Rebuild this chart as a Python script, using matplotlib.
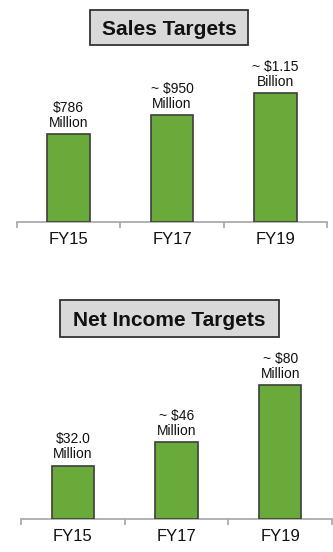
import matplotlib
matplotlib.use("Agg")
import matplotlib.pyplot as plt
from matplotlib.patches import Rectangle

plt.rcParams['font.family'] = ['Liberation Sans', 'DejaVu Sans']

categories = ["FY15", "FY17", "FY19"]
sales_values = [786, 950, 1150]
sales_labels = ["$786\nMillion", "~ $950\nMillion", "~ $1.15\nBillion"]
income_values = [32.0, 46, 80]
income_labels = ["$32.0\nMillion", "~ $46\nMillion", "~ $80\nMillion"]
titles = ["Sales Targets", "Net Income Targets"]

W, H = 333, 552
fig = plt.figure(figsize=(W / 100, H / 100), dpi=100)

GREEN = "#6aaa3a"
EDGE = "#3d3d3d"
AXIS = "#a6a6a6"

def px_rect(x0, y0, x1, y1):
    # convert pixel box (top-left origin) to figure fraction
    return [x0 / W, (H - y1) / H, (x1 - x0) / W, (y1 - y0) / H]

def draw_panel(rect, values, labels, ymax):
    ax = fig.add_axes(rect)
    x = list(range(len(categories)))
    ax.bar(x, values, width=0.41, color=GREEN, edgecolor=EDGE, linewidth=1.2, zorder=3)
    for xi, v, lab in zip(x, values, labels):
        ax.annotate(lab, (xi, v), xytext=(0, 3), textcoords="offset points",
                    ha="center", va="bottom", fontsize=10, linespacing=1.1, color="#111111")
    ax.set_xlim(-0.5, len(categories) - 0.5)
    ax.set_ylim(0, ymax)
    for s in ["top", "right", "left"]:
        ax.spines[s].set_visible(False)
    ax.spines["bottom"].set_color(AXIS)
    ax.spines["bottom"].set_linewidth(1.2)
    ax.set_yticks([])
    ax.set_xticks([i - 0.5 for i in range(len(categories) + 1)])
    ax.set_xticklabels([])
    ax.tick_params(axis="x", which="major", length=4, color=AXIS, width=1.2, direction="out")
    ax.set_xticks(x, minor=True)
    ax.set_xticklabels(categories, minor=True)
    ax.tick_params(axis="x", which="minor", length=0, pad=7, labelsize=12, labelcolor="#111111")
    return ax

draw_panel(px_rect(17, 65, 327, 222), sales_values, sales_labels, 1400)
draw_panel(px_rect(21, 352, 332, 519), income_values, income_labels, 100)

def title_box(x0, y0, x1, y1, text):
    r = Rectangle((x0 / W, (H - y1) / H), (x1 - x0) / W, (y1 - y0) / H,
                  transform=fig.transFigure, facecolor="#d9d9d9", edgecolor="#333333",
                  linewidth=1.3, zorder=5)
    fig.patches.append(r)
    fig.text((x0 + x1) / 2 / W, (H - (y0 + y1) / 2) / H, text, ha="center", va="center_baseline",
             fontsize=15, fontweight="bold", color="#111111", zorder=6)

title_box(90, 10, 248, 45, titles[0])
title_box(60, 300, 279, 337, titles[1])

fig.savefig("out.png", dpi=100, facecolor="white")
